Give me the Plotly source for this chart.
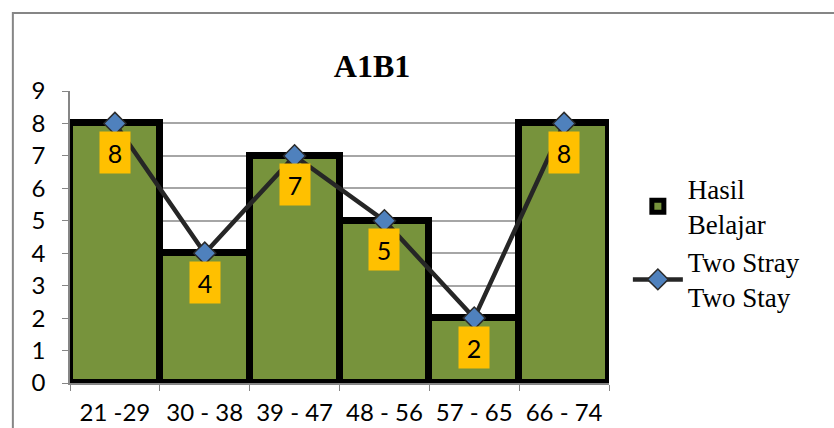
import plotly.graph_objects as go

# Score intervals and frequency of learning outcomes (Two Stray Two Stay, A1B1)
categories = ["21 -29", "30 - 38", "39 - 47", "48 - 56", "57 - 65", "66 - 74"]
hasil_belajar = [8, 4, 7, 5, 2, 8]
two_stray_two_stay = [8, 4, 7, 5, 2, 8]
y_ticks = list(range(0, 10))

GREEN = "#77933C"
YELLOW = "#FFC000"
BLUE = "#4F81BD"
SANS = "Lato, Open Sans, sans-serif"
TICK_FONT = dict(family=SANS, size=24, color="#000000")
SERIF = "Liberation Serif, Times New Roman, serif"

fig = go.Figure()

fig.add_trace(go.Bar(
    x=categories,
    y=hasil_belajar,
    name="Hasil<br>Belajar",
    marker=dict(color=GREEN, line=dict(color="#000000", width=7)),
    hoverinfo="x+y",
))

fig.add_trace(go.Scatter(
    x=categories,
    y=two_stray_two_stay,
    name="Two Stray<br>Two Stay",
    mode="lines+markers",
    line=dict(color="#262626", width=4.5),
    marker=dict(symbol="diamond", size=17, color=BLUE,
                line=dict(color="#2B2B2B", width=1.5)),
))

# Yellow value labels just below each point
for cat, val in zip(categories, two_stray_two_stay):
    fig.add_annotation(
        x=cat, y=val, xref="x", yref="y",
        text=str(val), showarrow=False,
        yshift=-29, width=30, height=41,
        bgcolor=YELLOW, borderpad=0,
        font=dict(family=SANS, size=25, color="#000000"),
    )

# Outer chart frame
fig.add_shape(
    type="rect", xref="paper", yref="paper",
    x0=-0.106, x1=1.45, y0=-0.25, y1=1.267,
    line=dict(color="#868686", width=2), fillcolor="rgba(0,0,0,0)",
    layer="below",
)

fig.update_layout(
    width=834, height=428,
    margin=dict(l=70, r=225, t=91, b=45),
    paper_bgcolor="#FFFFFF",
    plot_bgcolor="#FFFFFF",
    bargap=0,
    title=dict(
        text="<b>A1B1</b>", x=(372 / 834), xanchor="center",
        y=1 - 66 / 428, yanchor="middle",
        font=dict(family=SERIF, size=32, color="#000000"),
    ),
    showlegend=True,
    legend=dict(
        x=1.035, xanchor="left", y=0.748, yanchor="top",
        font=dict(family=SERIF, size=27, color="#000000"),
        bgcolor="rgba(0,0,0,0)",
        tracegroupgap=10,
        itemwidth=50,
    ),
    xaxis=dict(
        type="category",
        automargin=False,
        showgrid=False,
        showline=True, linecolor="#868686", linewidth=1.5,
        ticks="outside", tickson="boundaries", ticklen=6, tickcolor="#868686",
        tickfont=TICK_FONT,
        tickangle=0,
        ticklabelstandoff=7,
    ),
    yaxis=dict(
        range=[0, 9],
        automargin=False,
        tickvals=y_ticks,
        showgrid=True, gridcolor="#A6A6A6", gridwidth=1.5,
        showline=True, linecolor="#868686", linewidth=1.5,
        ticks="outside", ticklen=6, tickcolor="#868686",
        tickfont=TICK_FONT,
        ticklabelstandoff=12,
        zeroline=False,
    ),
)

fig.write_html("out.html")
